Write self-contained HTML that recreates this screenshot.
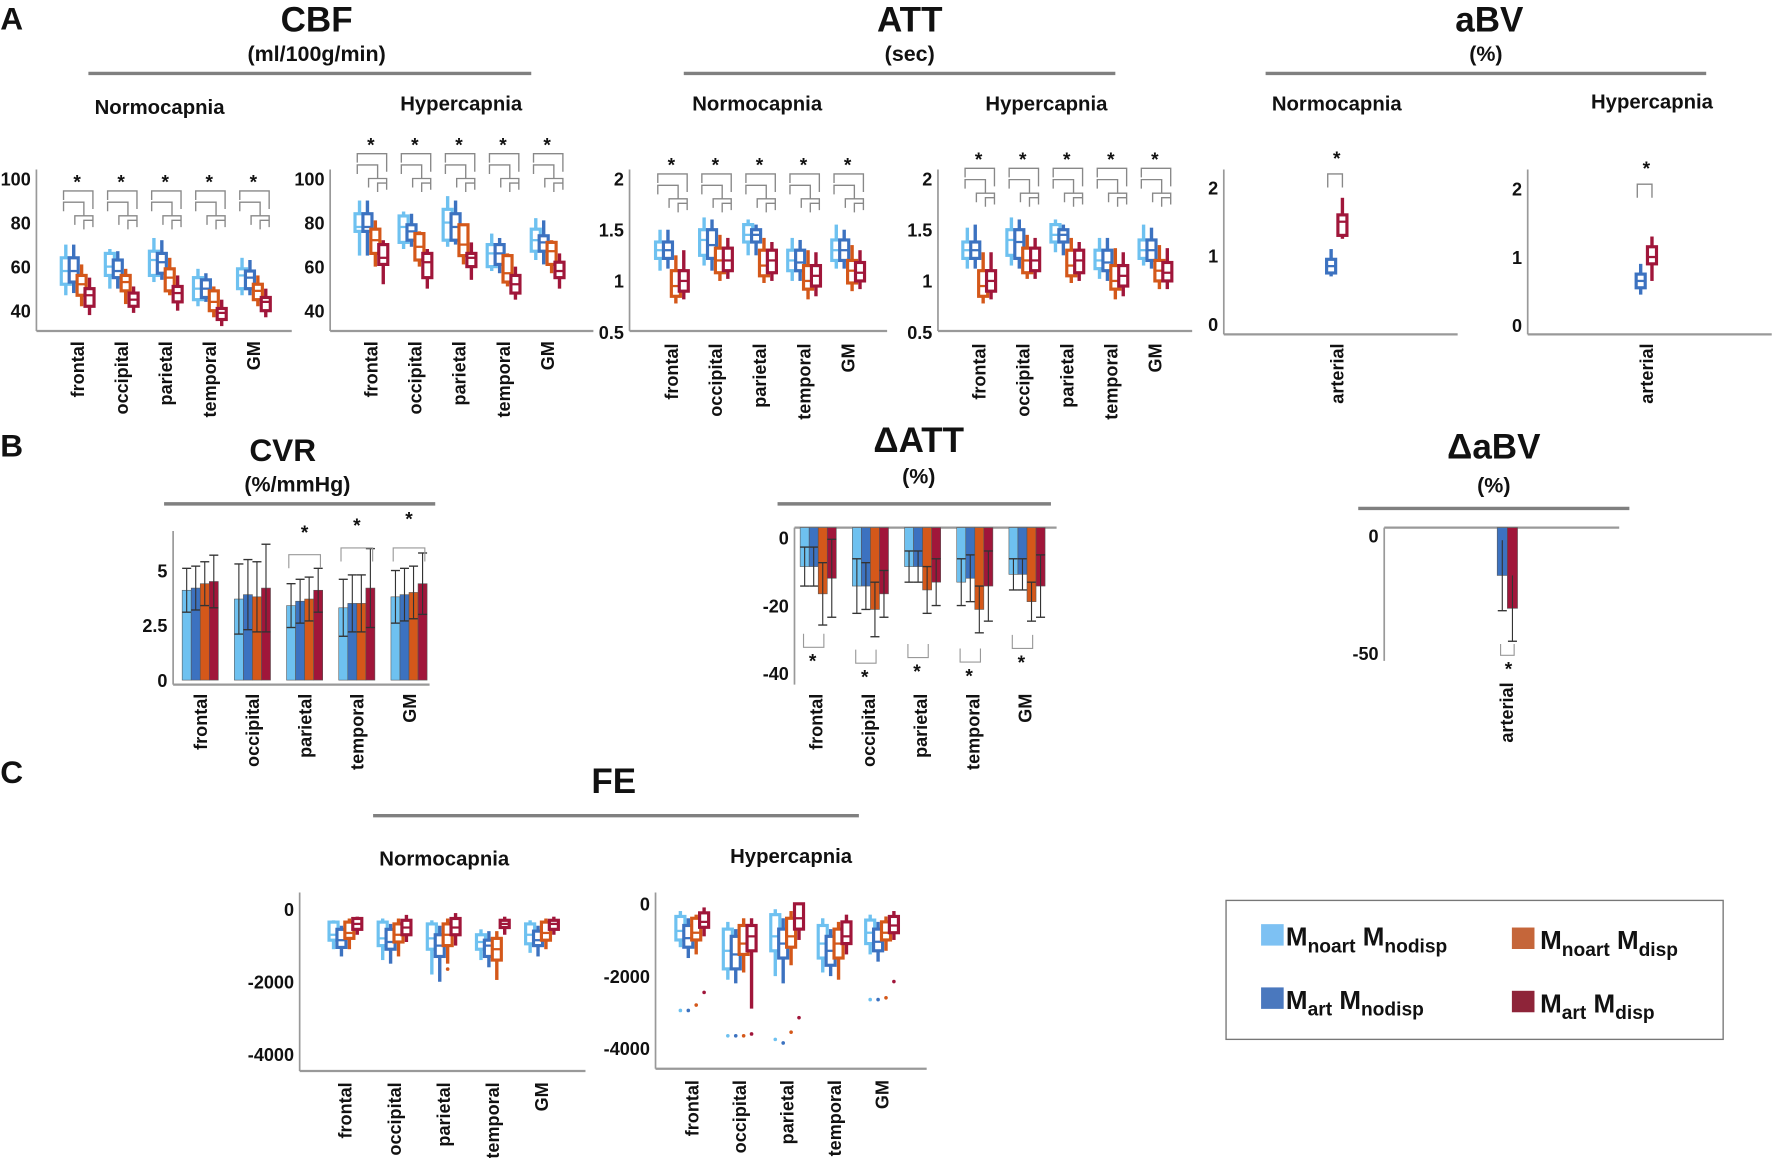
<!DOCTYPE html>
<html><head><meta charset="utf-8">
<style>
html,body{margin:0;padding:0;background:#fff;}
svg{display:block;font-family:"Liberation Sans",Arial,sans-serif;}
text{font-weight:bold;fill:#111;}
</style></head>
<body>
<svg id="fig" width="1772" height="1158" viewBox="0 0 1568 1025" xmlns="http://www.w3.org/2000/svg">
<g>
<text x="0" y="26" font-size="28">A</text>
<text x="0" y="404" font-size="28">B</text>
<text x="0" y="693" font-size="28">C</text>
</g>
<g text-anchor="middle">
<text x="280" y="28" font-size="31">CBF</text>
<text x="280" y="54" font-size="19">(ml/100g/min)</text>
<line x1="78" y1="65" x2="470" y2="65" stroke="#808080" stroke-width="3"/>
<text x="141" y="101" font-size="18">Normocapnia</text>
<text x="408" y="98" font-size="18">Hypercapnia</text>
<text x="805" y="28" font-size="31">ATT</text>
<text x="805" y="54" font-size="19">(sec)</text>
<line x1="605" y1="65" x2="987" y2="65" stroke="#808080" stroke-width="3"/>
<text x="670" y="98" font-size="18">Normocapnia</text>
<text x="926" y="98" font-size="18">Hypercapnia</text>
<text x="1318" y="28" font-size="31">aBV</text>
<text x="1315" y="54" font-size="19">(%)</text>
<line x1="1120" y1="65" x2="1510" y2="65" stroke="#808080" stroke-width="3"/>
<text x="1183" y="98" font-size="18">Normocapnia</text>
<text x="1462" y="96" font-size="18">Hypercapnia</text>
<text x="250" y="408" font-size="28">CVR</text>
<text x="263" y="435" font-size="19">(%/mmHg)</text>
<line x1="145" y1="446" x2="385" y2="446" stroke="#808080" stroke-width="3"/>
<text x="813" y="400" font-size="31">ΔATT</text>
<text x="813" y="428" font-size="19">(%)</text>
<line x1="688" y1="446" x2="930" y2="446" stroke="#808080" stroke-width="3"/>
<text x="1322" y="406" font-size="31">ΔaBV</text>
<text x="1322" y="436" font-size="19">(%)</text>
<line x1="1202" y1="450" x2="1442" y2="450" stroke="#808080" stroke-width="3"/>
<text x="543" y="702" font-size="31">FE</text>
<line x1="330" y1="722" x2="760" y2="722" stroke="#808080" stroke-width="3"/>
<text x="393" y="766" font-size="18">Normocapnia</text>
<text x="700" y="764" font-size="18">Hypercapnia</text>
</g>
<g>
<rect x="1085" y="797" width="440" height="123" fill="#fff" stroke="#777" stroke-width="1.2"/>
<g>
<rect x="1116" y="818" width="20" height="19" fill="#7DC1F3"/>
<text x="1138" y="837" font-size="23">M<tspan font-size="17" dy="6">noart</tspan><tspan font-size="23" dy="-6"> M</tspan><tspan font-size="17" dy="6">nodisp</tspan></text></g>
<g>
<rect x="1116" y="874" width="20" height="19" fill="#4A78BE"/>
<text x="1138" y="893" font-size="23">M<tspan font-size="17" dy="6">art</tspan><tspan font-size="23" dy="-6"> M</tspan><tspan font-size="17" dy="6">nodisp</tspan></text></g>
<g>
<rect x="1338" y="821" width="20" height="19" fill="#C5663A"/>
<text x="1363" y="840" font-size="23">M<tspan font-size="17" dy="6">noart</tspan><tspan font-size="23" dy="-6"> M</tspan><tspan font-size="17" dy="6">disp</tspan></text></g>
<g>
<rect x="1338" y="877" width="20" height="19" fill="#8E2439"/>
<text x="1363" y="896" font-size="23">M<tspan font-size="17" dy="6">art</tspan><tspan font-size="23" dy="-6"> M</tspan><tspan font-size="17" dy="6">disp</tspan></text></g>
</g>
</svg>
<script>
const regions = ["frontal","occipital","parietal","temporal","GM"];
const seriesNames = ["noart-nodisp","art-nodisp","noart-disp","art-disp"];
const colors = ["#6EC1F0","#3C72C0","#D4581A","#A0163A"];
const cbfNormo = [
 [[47,52,58,64,70],[48,53,58,64,70],[42,47,52,56,61],[38,42,47,50,55]],
 [[50,56,60,66,68],[50,55,58,63,67],[43,49,53,56,59],[39,42,45,48,51]],
 [[53,56,63,67,73],[54,57,62,66,72],[47,49,55,59,64],[40,44,48,51,56]],
 [[42,45,50,55,59],[44,46,50,54,57],[37,40,44,49,51],[33,36,39,41,45]],
 [[47,50,56,59,64],[47,50,55,58,63],[42,45,49,52,56],[37,40,44,46,50]]];
const cbfHyper = [
 [[65,76,78,84,90],[65,76,78,84,90],[60,66,72,77,81],[52,61,64,70,72]],
 [[68,71,78,83,85],[69,72,76,79,84],[60,63,69,75,76],[50,55,62,66,68]],
 [[69,72,80,86,92],[70,72,78,84,90],[61,65,70,79,79],[54,60,64,66,71]],
 [[58,60,66,70,75],[57,61,66,70,73],[51,53,57,65,66],[45,48,52,56,60]],
 [[63,67,72,77,82],[61,67,71,74,81],[57,61,67,71,72],[50,55,58,62,66]]];
const attNormo = [
 [[1.1,1.22,1.3,1.38,1.5],[1.12,1.22,1.3,1.38,1.5],[0.78,0.85,0.95,1.1,1.25],[0.82,0.9,1.0,1.1,1.3]],
 [[1.15,1.25,1.4,1.5,1.62],[1.1,1.22,1.35,1.5,1.6],[1.0,1.08,1.2,1.32,1.45],[1.02,1.1,1.2,1.32,1.42]],
 [[1.25,1.38,1.45,1.55,1.6],[1.25,1.38,1.45,1.5,1.55],[0.98,1.05,1.15,1.3,1.42],[1.0,1.08,1.2,1.3,1.38]],
 [[1.0,1.1,1.2,1.3,1.42],[1.0,1.1,1.18,1.3,1.4],[0.82,0.92,1.0,1.15,1.3],[0.85,0.95,1.05,1.15,1.28]],
 [[1.12,1.2,1.3,1.4,1.55],[1.12,1.2,1.3,1.4,1.5],[0.9,0.98,1.1,1.2,1.35],[0.92,1.0,1.08,1.18,1.3]]];
const attHyper = [
 [[1.12,1.22,1.3,1.38,1.52],[1.12,1.22,1.3,1.38,1.55],[0.78,0.85,0.95,1.1,1.28],[0.82,0.9,1.0,1.1,1.28]],
 [[1.15,1.25,1.4,1.5,1.62],[1.12,1.22,1.38,1.5,1.6],[1.02,1.08,1.2,1.32,1.45],[1.02,1.1,1.2,1.32,1.42]],
 [[1.28,1.38,1.45,1.55,1.6],[1.25,1.38,1.45,1.5,1.55],[0.98,1.05,1.15,1.3,1.42],[1.0,1.08,1.2,1.3,1.38]],
 [[1.02,1.12,1.2,1.3,1.42],[1.0,1.1,1.18,1.3,1.42],[0.82,0.92,1.0,1.15,1.32],[0.85,0.95,1.05,1.15,1.28]],
 [[1.15,1.22,1.3,1.4,1.55],[1.12,1.2,1.3,1.4,1.52],[0.92,1.0,1.1,1.2,1.35],[0.92,1.0,1.08,1.18,1.32]]];
const abvNormo = [[0.7,0.75,0.85,0.95,1.1],[1.25,1.3,1.5,1.6,1.85]];
const abvHyper = [[0.45,0.55,0.65,0.75,0.9],[0.65,0.9,1.0,1.15,1.3]];
const cvrMeans = [[4.1,4.2,4.4,4.5],[3.7,3.9,3.8,4.2],[3.4,3.6,3.7,4.1],[3.3,3.5,3.5,4.2],[3.8,3.9,4.0,4.4]];
const cvrErr = [[1.0,1.0,1.0,1.2],[1.6,1.6,1.6,2.0],[1.0,1.0,1.0,1.0],[1.3,1.3,1.3,1.8],[1.2,1.2,1.2,1.4]];
const dattMeans = [[-10,-10,-17,-13],[-15,-15,-21,-17],[-10,-10,-16,-14],[-14,-13,-21,-15],[-12,-12,-19,-15]];
const dattErr = [[5,5,8,10],[7,6,7,6],[4,4,6,6],[6,6,6,9],[4,4,5,8]];
const dabvMeans = [-17,-31];
const dabvErr = [15,14];
const feNormo = [
 [[-1100,-850,-700,-350,-300],[-1300,-1050,-850,-550,-450],[-1100,-800,-650,-350,-250],[-700,-550,-400,-250,-200]],
 [[-1400,-1000,-800,-350,-250],[-1500,-1100,-900,-550,-400],[-1300,-900,-700,-400,-250],[-900,-700,-500,-300,-150]],
 [[-1800,-1100,-800,-400,-300],[-2000,-1300,-1000,-700,-450],[-1500,-1000,-700,-400,-250],[-1000,-700,-500,-250,-100]],
 [[-1400,-1100,-900,-700,-550],[-1600,-1300,-1000,-850,-600],[-1950,-1400,-1100,-800,-600],[-700,-500,-400,-300,-200]],
 [[-1200,-950,-700,-400,-300],[-1300,-1000,-850,-600,-450],[-1100,-850,-650,-350,-250],[-700,-550,-400,-300,-200]]];
const feHyper = [
 [[-1200,-1000,-750,-350,-200],[-1500,-1200,-950,-600,-400],[-1400,-1000,-800,-400,-300],[-900,-650,-500,-250,-100]],
 [[-2100,-1800,-1300,-700,-500],[-2200,-1800,-1400,-900,-700],[-1900,-1400,-1100,-600,-400],[-2900,-1300,-900,-600,-400]],
 [[-2000,-1300,-900,-300,-150],[-2200,-1500,-1100,-700,-400],[-1700,-1200,-900,-400,-200],[-1000,-700,-400,0,0]],
 [[-1900,-1500,-1100,-600,-400],[-2000,-1700,-1300,-900,-700],[-2100,-1500,-1100,-700,-500],[-1400,-1100,-900,-500,-300]],
 [[-1400,-1100,-800,-450,-300],[-1600,-1300,-1050,-700,-500],[-1300,-1000,-800,-500,-350],[-1000,-800,-600,-350,-200]]];
const feHyperOutliers = [[-2950,-2950,-2800,-2450],[-3650,-3650,-3650,-3600],[-3750,-3850,-3550,-3150],[null,null,null,null],[-2650,-2650,-2600,-2150]];
const feNormoOutliers = [[null,null,null,null],[null,null,null,null],[null,null,-1650,null],[null,null,null,null],[null,null,null,null]];

const svg = document.getElementById('fig');
const NS = 'http://www.w3.org/2000/svg';
function mk(tag, attrs, parent){ const e=document.createElementNS(NS,tag); for(const k in attrs) e.setAttribute(k,attrs[k]); (parent||svg).appendChild(e); return e; }
function scale(v0,p0,v1,p1){ return v=>p0+(v-v0)*(p1-p0)/(v1-v0); }

function axes(g, cfg){
  mk('line',{x1:cfg.x0,y1:cfg.yTop,x2:cfg.x0,y2:cfg.yBot,stroke:'#999','stroke-width':1.5},g);
  mk('line',{x1:cfg.x0,y1:cfg.xAxisY,x2:cfg.x1,y2:cfg.xAxisY,stroke:'#999','stroke-width':2},g);
  cfg.ticks.forEach((t,i)=>{
    const tx = mk('text',{x:cfg.x0-5,y:cfg.y(t)+6,'font-size':cfg.fs||16,'text-anchor':'end'},g);
    tx.textContent = cfg.tickLabels[i];
    
    
  });
}
function catLabels(g, cats, xs, y0, fs){
  cats.forEach((c,i)=>{
    const t = mk('text',{x:0,y:0,'font-size':fs||16,'text-anchor':'end',transform:`translate(${xs(i)+6},${y0}) rotate(-90)`},g);
    t.textContent = c;
    
    
  });
}
function box(g, x, s, y, col, w){
  w = w||8;
  mk('line',{x1:x,y1:y(s[0]),x2:x,y2:y(s[4]),stroke:col,'stroke-width':3},g);
  const top=Math.min(y(s[1]),y(s[3])), h=Math.max(2,Math.abs(y(s[1])-y(s[3])));
  const r = mk('rect',{x:x-w/2,y:top,width:w,height:h,fill:'#fff',stroke:col,'stroke-width':2.8},g);
  
  
  mk('line',{x1:x-w/2,y1:y(s[2]),x2:x+w/2,y2:y(s[2]),stroke:col,'stroke-width':2},g);
}
function brackets(g, cx, yTop){
  const c='#888';
  const p = (d)=>mk('path',{d,fill:'none',stroke:c,'stroke-width':1.2},g);
  const t = mk('text',{x:cx,y:yTop+2,'font-size':17,'text-anchor':'middle'},g);
  t.textContent='*';
  p(`M${cx-12} ${yTop+12} V${yTop+4} H${cx+14} V${yTop+20}`);
  p(`M${cx-12} ${yTop+22} V${yTop+14} H${cx+6} V${yTop+26}`);
  p(`M${cx-2} ${yTop+34} V${yTop+26} H${cx+14} V${yTop+36}`);
  p(`M${cx+6} ${yTop+38} V${yTop+30} H${cx+14}`);
}
const offs = [-10,-3,4,11];

function boxPanel(name, data, cfg){
  const g = mk('g',{});
  
  
  const y = cfg.y; cfg.tickLabels = cfg.ticks.map(String);
  axes(g,cfg);
  const xs = i=>cfg.c0+i*cfg.step;
  data.forEach((grp,i)=>{
    if(cfg.br) brackets(g, xs(i), cfg.br);
    grp.forEach((s,j)=>box(g, xs(i)+offs[j], s, y, colors[j]));
  });
  if(cfg.out) cfg.out.forEach((grp,i)=>grp.forEach((v,j)=>{ if(v!==null) mk('circle',{cx:xs(i)+offs[j],cy:y(v),r:1.6,fill:colors[j]},g); }));
  catLabels(g, regions, xs, cfg.labY);
}

boxPanel('cbf-normocapnia-chart', cbfNormo, {x0:32,x1:258,yTop:150,yBot:293,xAxisY:293,ticks:[100,80,60,40],y:scale(100,158,40,275),c0:68,step:39,br:165,labY:302});
boxPanel('cbf-hypercapnia-chart', cbfHyper, {x0:292,x1:525,yTop:150,yBot:293,xAxisY:293,ticks:[100,80,60,40],y:scale(100,158,40,275),c0:328,step:39,br:132,labY:302});
boxPanel('att-normocapnia-chart', attNormo, {x0:557,x1:785,yTop:150,yBot:293,xAxisY:293,ticks:[2,1.5,1,0.5],y:scale(2,158,0.5,294),c0:594,step:39,br:150,labY:304});
boxPanel('att-hypercapnia-chart', attHyper, {x0:830,x1:1055,yTop:150,yBot:293,xAxisY:293,ticks:[2,1.5,1,0.5],y:scale(2,158,0.5,294),c0:866,step:39,br:145,labY:304});
boxPanel('fe-normocapnia-chart', feNormo, {x0:265,x1:518,yTop:790,yBot:948,xAxisY:948,ticks:[0,-2000,-4000],y:scale(0,805,-4000,933),c0:305,step:43.5,labY:958,out:feNormoOutliers});
boxPanel('fe-hypercapnia-chart', feHyper, {x0:580,x1:820,yTop:790,yBot:946,xAxisY:946,ticks:[0,-2000,-4000],y:scale(0,800,-4000,928),c0:612,step:42,labY:956,out:feHyperOutliers});

function abvPanel(name, data, cfg){
  const g = mk('g',{});
  
  
  cfg.tickLabels = cfg.ticks.map(String);
  axes(g,cfg);
  box(g, cfg.cx-5, data[0], cfg.y, colors[1]);
  box(g, cfg.cx+5, data[1], cfg.y, colors[3]);
  const t = mk('text',{x:cfg.cx,y:cfg.starY,'font-size':17,'text-anchor':'middle'},g); t.textContent='*';
  mk('path',{d:`M${cfg.cx-8} ${cfg.starY+20} V${cfg.starY+8} H${cfg.cx+5} V${cfg.starY+20}`,fill:'none',stroke:'#888','stroke-width':1.2},g);
  catLabels(g,['arterial'],()=>cfg.cx,304);
}
abvPanel('abv-normocapnia-chart', abvNormo, {x0:1083,x1:1290,yTop:150,yBot:296,xAxisY:296,ticks:[2,1,0],y:scale(2,166,0,287),cx:1183,starY:146});
abvPanel('abv-hypercapnia-chart', abvHyper, {x0:1352,x1:1568,yTop:150,yBot:296,xAxisY:296,ticks:[2,1,0],y:scale(2,167,0,288),cx:1457,starY:155});

(function(){
  const g = mk('g',{});
  
  
  const y = scale(0,602,5,505);
  axes(g,{x0:153,x1:380,yTop:470,yBot:606,xAxisY:606,ticks:[5,2.5,0],tickLabels:['5','2.5','0'],y});
  const xs=i=>177+i*46.2;
  cvrMeans.forEach((grp,i)=>grp.forEach((v,j)=>{
    const x=xs(i)-16+j*8;
    const r=mk('rect',{x,y:y(v),width:8,height:y(0)-y(v),fill:colors[j],stroke:'#555','stroke-width':0.5},g);
    
    
    const e=cvrErr[i][j], cx=x+4;
    mk('line',{x1:cx,y1:y(v+e),x2:cx,y2:y(v-e),stroke:'#333','stroke-width':1},g);
    mk('line',{x1:cx-4,y1:y(v+e),x2:cx+4,y2:y(v+e),stroke:'#333','stroke-width':1.2},g);
    mk('line',{x1:cx-4,y1:y(v-e),x2:cx+4,y2:y(v-e),stroke:'#333','stroke-width':1.2},g);
  }));
  [2,3,4].forEach(i=>{
    const cx=xs(i), t=mk('text',{x:cx,y:477-(i-2)*6,'font-size':17,'text-anchor':'middle'},g); t.textContent='*';
    const ty=485-(i===2?-6:0);
    mk('path',{d:`M${cx-14} ${ty+12} V${ty} H${cx+14} V${ty+12}`,fill:'none',stroke:'#999','stroke-width':1},g);
  });
  catLabels(g, regions, xs, 614);
})();

(function(){
  const g = mk('g',{});
  
  
  const y = scale(0,467,-40,605);
  axes(g,{x0:703,x1:935,yTop:467,yBot:606,xAxisY:467,ticks:[0,-20,-40],tickLabels:['0','-20','-40'],y:v=>v===0?476:scale(-20,536,-40,596)(v)});
  const xs=i=>722+i*46.2;
  dattMeans.forEach((grp,i)=>grp.forEach((v,j)=>{
    const x=xs(i)-14+j*8;
    const r=mk('rect',{x,y:y(0),width:8,height:y(v)-y(0),fill:colors[j],stroke:'#555','stroke-width':0.5},g);
    
    
    const e=dattErr[i][j], cx=x+4;
    mk('line',{x1:cx,y1:y(v+e),x2:cx,y2:y(v-e),stroke:'#333','stroke-width':1},g);
    mk('line',{x1:cx-4,y1:y(v+e),x2:cx+4,y2:y(v+e),stroke:'#333','stroke-width':1.2},g);
    mk('line',{x1:cx-4,y1:y(v-e),x2:cx+4,y2:y(v-e),stroke:'#333','stroke-width':1.2},g);
  }));
  dattMeans.forEach((grp,i)=>{
    const cx=xs(i)-3, sy=[583,597,592,596,584][i];
    const t=mk('text',{x:cx,y:sy+8,'font-size':17,'text-anchor':'middle'},g); t.textContent='*';
    mk('path',{d:`M${cx-8} ${sy-22} V${sy-10} H${cx+10} V${sy-22}`,fill:'none',stroke:'#999','stroke-width':1},g);
  });
  catLabels(g, regions, xs, 614);
})();

(function(){
  const g = mk('g',{});
  
  
  const y = scale(0,474,-50,578);
  axes(g,{x0:1225,x1:1433,yTop:467,yBot:585,xAxisY:467,ticks:[0,-50],tickLabels:['0','-50'],y});
  dabvMeans.forEach((v,j)=>{
    const x=1325+j*9, col=j?colors[3]:colors[1];
    const r=mk('rect',{x,y:467,width:9,height:y(v)-467,fill:col,stroke:'#555','stroke-width':0.5},g);
    
    
    const e=dabvErr[j], cx=x+4.5;
    mk('line',{x1:cx,y1:y(v+e),x2:cx,y2:y(v-e),stroke:'#333','stroke-width':1},g);
    mk('line',{x1:cx-4,y1:y(v-e),x2:cx+4,y2:y(v-e),stroke:'#333','stroke-width':1.2},g);
  });
  const t=mk('text',{x:1335,y:598,'font-size':17,'text-anchor':'middle'},g); t.textContent='*';
  mk('path',{d:`M1328 570 V580 H1340 V570`,fill:'none',stroke:'#999','stroke-width':1},g);
  catLabels(g,['arterial'],()=>1333,604);
})();
</script>
</body></html>
